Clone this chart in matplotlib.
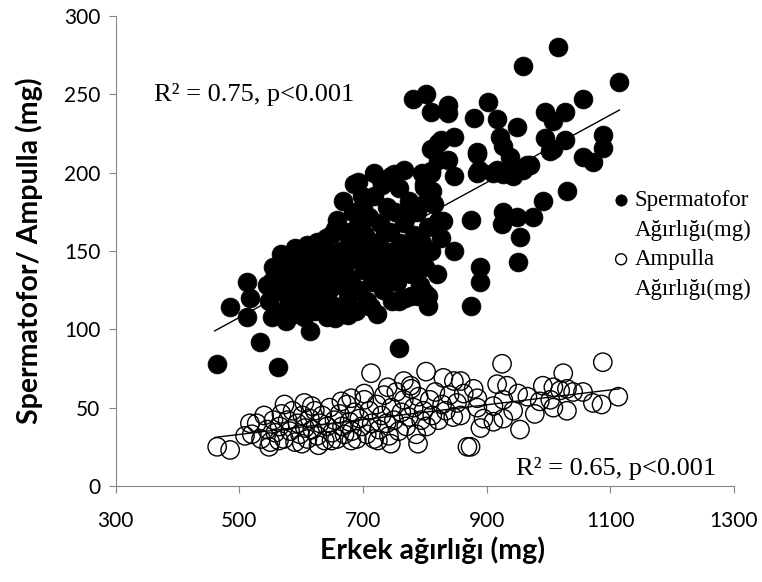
import matplotlib
matplotlib.use("Agg")
import matplotlib.pyplot as plt
from matplotlib.lines import Line2D

# erkek agirligi (mg) vs spermatofor agirligi (mg), dolu daireler
sperm_x = [464, 562, 533, 614, 485, 512, 517, 512, 552, 552, 568, 609, 625, 654, 713, 654, 676, 758,
           686, 718, 750, 766, 798, 810, 847, 885, 874, 890, 890, 874, 847, 821, 798, 805, 777, 758,
           927, 925, 954, 951, 949, 975, 991, 1030, 829, 789, 805,
           885, 911, 927, 943, 966, 1003,
           1015, 959, 1114, 1056, 995, 1027, 1007, 995, 1027, 1007, 1088, 1088, 1072, 1056,
           903, 917, 879, 949, 922, 927, 938, 885, 887, 917, 938, 959, 970,
           802, 810, 838, 837, 826, 847, 810, 837, 810, 802, 781, 822, 821, 692, 729, 745, 798,
           545, 548, 555, 560, 565, 570, 572, 578, 580, 575,
           585, 588, 590, 595, 598, 600, 603, 605, 608, 612, 615, 618,
           622, 625, 628, 630, 633, 636, 640, 642, 645, 648, 650, 653, 656, 658,
           662, 664, 667, 670, 672, 675, 678, 680, 683, 686, 688, 690, 693, 696, 698,
           702, 704, 707, 710, 712, 715, 718, 720, 723, 725, 728, 730, 733, 736, 738,
           742, 744, 747, 750, 752, 755, 758, 760, 763, 766, 768, 772, 775, 778,
           782, 785, 788, 792, 795, 800, 805, 810, 815, 820, 826,
           610, 640, 668, 700, 735, 770, 795, 812]
sperm_y = [78, 76, 92, 99, 114, 108, 120, 130, 108, 131, 148, 154, 156, 164, 114, 107, 109, 88,
           193, 200, 199, 202, 191, 201, 198, 212, 170, 140, 130, 115, 150, 169, 124, 115, 121, 118,
           175, 167, 159, 143, 172, 172, 182, 188, 169, 121, 121,
           200, 200, 199, 198, 205, 214,
           280, 268, 258, 247, 239, 239, 233, 222, 221, 215, 224, 216, 207, 210,
           245, 234, 235, 229, 223, 217, 210, 213, 202, 202, 200, 202, 205,
           250, 239, 243, 238, 221, 223, 215, 208, 200, 181, 247, 219, 208, 194, 195, 198, 193,
           128, 118, 140, 125, 135, 112, 146, 120, 130, 105,
           140, 110, 152, 125, 135, 118, 145, 108, 130, 150, 122, 138,
           112, 145, 128, 155, 118, 138, 150, 108, 125, 160, 135, 115, 145, 170,
           128, 150, 110, 140, 162, 120, 155, 132, 175, 145, 112, 165, 125, 150, 185,
           138, 160, 118, 172, 145, 130, 185, 155, 110, 140, 168, 192, 125, 150, 178,
           135, 162, 118, 145, 175, 130, 190, 155, 140, 168, 120, 150, 182, 135,
           160, 145, 175, 128, 155, 140, 165, 150, 180, 135, 158,
           142, 158, 182, 178, 162, 172, 200, 188]

# ampulla agirligi (mg), bos daireler
amp_x = [464, 485, 517, 509, 713, 802, 830, 847, 766, 777, 740, 681, 702, 665, 573, 605, 617,
         548, 564, 601, 628, 649, 681, 724, 745, 789, 869,
         925, 1088, 1024, 1113, 1086, 1072, 1056, 1030, 1008, 954, 890, 874, 991, 1008, 1019, 1030,
         1040, 986, 1003, 978, 933, 951, 966, 927, 911, 885, 917, 879, 863, 885, 895, 927, 911, 943,
         858, 858,
         520, 528, 535, 540, 545, 550, 555, 558,
         565, 568, 572, 578, 582, 586, 590, 594, 598, 602, 606, 610, 614, 618,
         622, 626, 630, 634, 638, 642, 646, 650, 654, 658, 662, 666, 670, 674, 678,
         682, 686, 690, 694, 698, 702, 706, 710, 714, 718, 722, 726, 730, 734, 738,
         742, 746, 750, 754, 758, 762, 766, 770, 774, 778, 782, 786, 790, 794, 798,
         803, 808, 812, 817, 822, 828, 834, 840, 846, 852]
amp_y = [25, 23, 40, 32, 72, 73, 69, 67, 67, 64, 63, 56, 59, 54, 52, 53, 51,
         25, 29, 27, 26, 29, 29, 29, 27, 27, 25,
         78, 79, 72, 57, 52, 53, 60, 48, 50, 36, 37, 25, 64, 63, 61, 62,
         60, 54, 55, 46, 64, 59, 57, 55, 51, 50, 65, 62, 59, 56, 43, 43, 41, 48,
         45, 67,
         33, 40, 30, 45, 36, 28, 42, 34,
         38, 46, 30, 42, 35, 48, 28, 40, 33, 45, 37, 30, 43, 36,
         48, 32, 40, 45, 29, 38, 50, 34, 42, 30, 46, 38, 33, 52, 41,
         35, 47, 30, 43, 38, 55, 33, 48, 40, 30, 52, 36, 45, 58, 40,
         32, 50, 42, 60, 35, 47, 55, 38, 44, 62, 50, 33, 57, 42, 48,
         38, 55, 45, 60, 42, 52, 48, 58, 44, 53]

# dogrusal egilim cizgileri (uc noktalar)
trend_x = [460, 1115]
trend_sperm = [99, 240]
trend_amp = [31, 62]

fig = plt.figure(figsize=(7.62, 5.82), dpi=100)
ax = fig.add_axes([0.152, 0.165, 0.811, 0.8075])

ax.plot(trend_x, trend_sperm, color='black', lw=1, zorder=1)
ax.plot(trend_x, trend_amp, color='black', lw=1, zorder=1)
h1 = ax.scatter(sperm_x, sperm_y, s=185, c='black', edgecolors='black', linewidths=0.5, zorder=2)
h2 = ax.scatter(amp_x, amp_y, s=175, facecolors='none', edgecolors='black', linewidths=1, zorder=2)

ax.set_xlim(300, 1300)
ax.set_ylim(0, 300)
ax.set_xticks(range(300, 1301, 200))
ax.set_yticks(range(0, 301, 50))
for s in ['top', 'right']:
    ax.spines[s].set_visible(False)
for s in ['left', 'bottom']:
    ax.spines[s].set_color('#868686')
ax.tick_params(direction='out', length=5, color='#868686', labelsize=15)
ax.tick_params(axis='x', pad=13)
ax.tick_params(axis='y', pad=6)
for lab in ax.get_xticklabels() + ax.get_yticklabels():
    lab.set_family('Lato')

ax.set_xlabel('Erkek ağırlığı (mg)', fontsize=20.5, fontweight='bold', family='Lato')
ax.xaxis.set_label_coords(0.513, -0.108)
ax.set_ylabel('Spermatofor/ Ampulla (mg)', fontsize=20.5, fontweight='bold', family='Lato', labelpad=15)

ax.text(362, 250, 'R² = 0.75, p<0.001', fontsize=19, family='Liberation Serif', va='center')
ax.text(1272, 11, 'R² = 0.65, p<0.001', fontsize=19, family='Liberation Serif', va='center', ha='right')

# lejant: isaret ilk satirla hizali
blank = Line2D([], [], linestyle='none')
fig.legend([h1, blank, h2, blank], ['Spermatofor', 'Ağırlığı(mg)', 'Ampulla', 'Ağırlığı(mg)'],
           loc='upper left', bbox_to_anchor=(0.788, 0.69), frameon=False, markerscale=0.6,
           handlelength=1.0, handletextpad=0.1, labelspacing=0.38, borderaxespad=0,
           prop={'family': 'Liberation Serif', 'size': 16.5})

fig.savefig('out.png', dpi=100)
